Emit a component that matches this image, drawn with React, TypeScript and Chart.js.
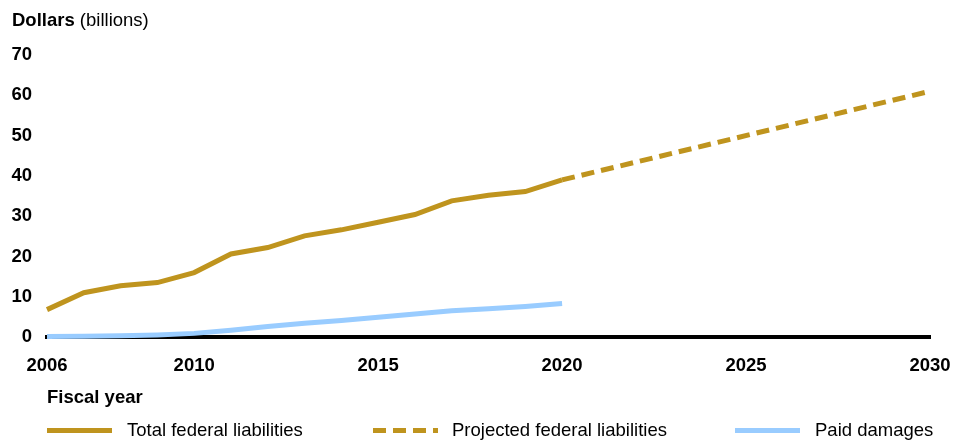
import React, { useEffect, useRef } from "react";
import { Chart, registerables } from "chart.js";

Chart.register(...registerables);

const years: string[] = [
  "2006", "2007", "2008", "2009", "2010", "2011", "2012", "2013", "2014", "2015",
  "2016", "2017", "2018", "2019", "2020", "2021", "2022", "2023", "2024", "2025",
  "2026", "2027", "2028", "2029", "2030",
];
const shownYears: string[] = ["2006", "2010", "2015", "2020", "2025", "2030"];

const totalLiabilities: (number | null)[] = [
  6.8, 11.0, 12.7, 13.5, 16.0, 20.6, 22.2, 25.1, 26.6, 28.5, 30.4, 33.8, 35.2, 36.1, 39.0,
];
const projectedLiabilities: (number | null)[] = [
  null, null, null, null, null, null, null, null, null, null, null, null, null, null, 39.0,
  null, null, null, null, null, null, null, null, null, 61.0,
];
const paidDamages: (number | null)[] = [
  0.1, 0.2, 0.3, 0.5, 0.9, 1.7, 2.6, 3.4, 4.1, 4.9, 5.7, 6.5, 7.0, 7.6, 8.3,
];

const GOLD = "#BF941E";
const BLUE = "#99CCFF";
const FONT = "Arial, 'Liberation Sans', sans-serif";
const FS = 18.5;

export default function App() {
  const ref = useRef<HTMLCanvasElement | null>(null);

  useEffect(() => {
    if (!ref.current) return;
    const chart = new Chart(ref.current, {
      type: "line",
      data: {
        labels: years,
        datasets: [
          {
            label: "Total federal liabilities",
            data: totalLiabilities,
            borderColor: GOLD,
            borderWidth: 5,
            pointRadius: 0,
            tension: 0,
            clip: false,
          },
          {
            label: "Projected federal liabilities",
            data: projectedLiabilities,
            borderColor: GOLD,
            borderWidth: 5,
            borderDash: [13, 7],
            pointRadius: 0,
            spanGaps: true,
            tension: 0,
            clip: false,
          },
          {
            label: "Paid damages",
            data: paidDamages,
            borderColor: BLUE,
            borderWidth: 5,
            pointRadius: 0,
            tension: 0,
            clip: false,
          },
        ],
      },
      options: {
        responsive: false,
        animation: false,
        layout: { padding: { left: 0, top: 55, right: 35, bottom: 0 } },
        plugins: { legend: { display: false }, tooltip: { enabled: false } },
        scales: {
          x: {
            type: "category",
            offset: false,
            grid: { display: false, drawTicks: false },
            border: { display: true, color: "#000000", width: 4 },
            ticks: {
              autoSkip: false,
              maxRotation: 0,
              padding: 18,
              color: "#000000",
              font: { family: FONT, size: FS, weight: "bold" },
              callback: function (_v: any, i: number) {
                const y = years[i];
                return shownYears.includes(y) ? y : "";
              },
            },
            afterFit: (s: any) => {
              s.height = 441 - 337;
              s.paddingLeft = 0;
              s.paddingRight = 0;
            },
          },
          y: {
            min: 0,
            max: 70,
            grid: { display: false, drawTicks: false },
            border: { display: false },
            ticks: {
              stepSize: 10,
              padding: 15,
              color: "#000000",
              font: { family: FONT, size: FS, weight: "bold" },
            },
            afterFit: (s: any) => {
              s.width = 47;
              s.paddingTop = 0;
              s.paddingBottom = 0;
            },
          },
        },
      },
    });
    return () => chart.destroy();
  }, []);

  const legendText: React.CSSProperties = {
    position: "absolute",
    top: 420,
    fontFamily: FONT,
    fontSize: FS,
    lineHeight: "20px",
    color: "#000",
    whiteSpace: "nowrap",
  };
  const sample = (left: number, bg: string): React.CSSProperties => ({
    position: "absolute",
    left,
    top: 428,
    width: 65,
    height: 5,
    background: bg,
  });

  return (
    <div
      style={{
        position: "fixed",
        left: 0,
        top: 0,
        width: 965,
        height: 441,
        background: "#fff",
        overflow: "hidden",
      }}
    >
      <canvas ref={ref} width={965} height={441} style={{ position: "absolute", left: 0, top: 0, width: 965, height: 441 }} />
      <div
        style={{
          position: "absolute",
          left: 12,
          top: 10,
          fontFamily: FONT,
          fontSize: FS,
          lineHeight: "20px",
          color: "#000",
          whiteSpace: "nowrap",
        }}
      >
        <b>Dollars</b> (billions)
      </div>
      <div
        style={{
          position: "absolute",
          left: 47,
          top: 387,
          fontFamily: FONT,
          fontSize: FS,
          fontWeight: "bold",
          lineHeight: "20px",
          color: "#000",
          whiteSpace: "nowrap",
        }}
      >
        Fiscal year
      </div>
      <div style={sample(47, GOLD)} />
      <div style={{ ...legendText, left: 127 }}>Total federal liabilities</div>
      <div
        style={sample(
          373,
          `repeating-linear-gradient(to right, ${GOLD} 0px, ${GOLD} 13px, transparent 13px, transparent 20px)`
        )}
      />
      <div style={{ ...legendText, left: 452 }}>Projected federal liabilities</div>
      <div style={sample(735, BLUE)} />
      <div style={{ ...legendText, left: 815 }}>Paid damages</div>
    </div>
  );
}
